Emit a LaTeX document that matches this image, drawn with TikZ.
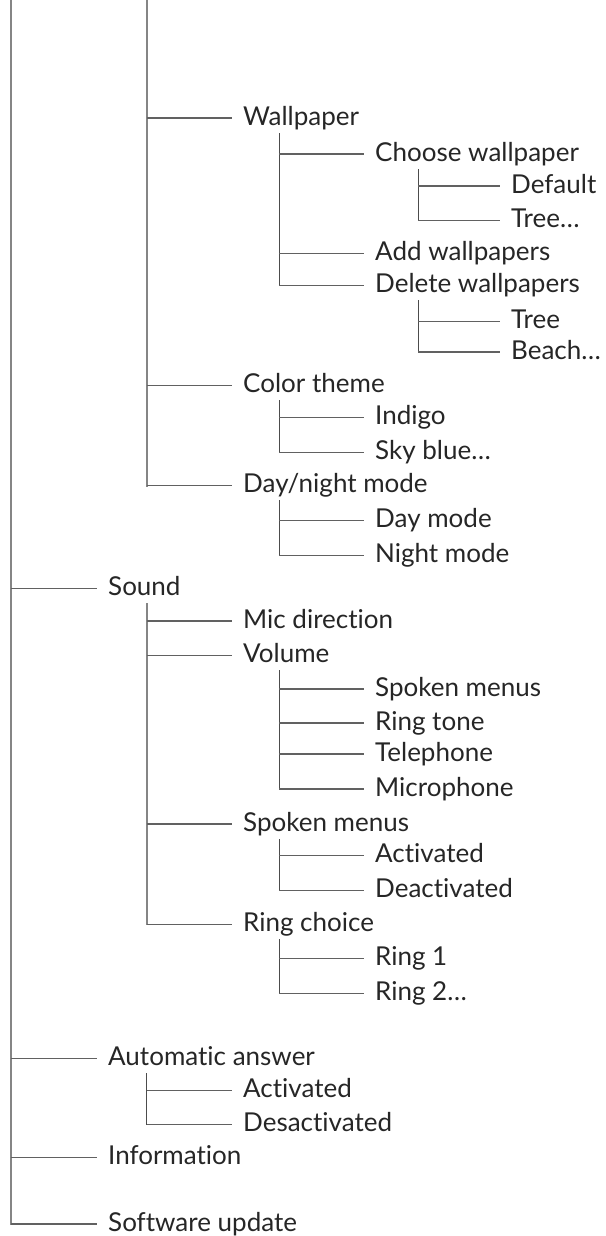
\documentclass[tikz,border=0pt]{standalone}
\usepackage{fontspec}
\setmainfont{Lato}[Ligatures=NoCommon]
\begin{document}
\begin{tikzpicture}[x=1pt,y=-1pt]
\tikzset{
  item/.style={anchor=west,inner xsep=11pt,inner ysep=8pt,text height=14pt,text depth=0pt,
    font=\fontsize{26}{30}\selectfont,text=black!85},
  branch/.style={draw=black!62,line width=1.2pt},
  trunk/.style={draw=black!48,line width=1.7pt,line cap=rect},
  subtrunk/.style={draw=black!70,line width=1.2pt,line cap=rect}
}
\useasboundingbox (0,0) rectangle (605,1236);
% x of the vertical lines
\coordinate (l0) at (11,0);
\coordinate (l1) at (146.7,0);
\coordinate (l2) at (279.3,0);
\coordinate (l3) at (418.3,0);
\def\xa{97}\def\xb{232}\def\xc{364}\def\xd{500}
% first level
\node[item] (sound) at (\xa,588.3) {Sound};
\node[item] (autoans) at (\xa,1058.3) {Automatic answer};
\node[item] (info) at (\xa,1157.3) {Information};
\node[item] (swupd) at (\xa,1224) {Software update};
% second level
\node[item] (wallp) at (\xb,118) {Wallpaper};
\node[item] (colth) at (\xb,385.7) {Color theme};
\node[item] (daynight) at (\xb,485.7) {Day/night mode};
\node[item] (micdir) at (\xb,621) {Mic direction};
\node[item] (volume) at (\xb,655.7) {Volume};
\node[item] (spoken) at (\xb,824) {Spoken menus};
\node[item] (ringch) at (\xb,924.3) {Ring choice};
\node[item] (aaon) at (\xb,1090.7) {Activated};
\node[item] (aaoff) at (\xb,1124.3) {Desactivated};
% third level
\node[item] (choose) at (\xc,154) {Choose wallpaper};
\node[item] (addwp) at (\xc,253.3) {Add wallpapers};
\node[item] (delwp) at (\xc,285.3) {Delete wallpapers};
\node[item] (indigo) at (\xc,417.3) {Indigo};
\node[item] (skyblue) at (\xc,452.3) {Sky blue\dots};
\node[item] (daym) at (\xc,520.7) {Day mode};
\node[item] (nightm) at (\xc,555.7) {Night mode};
\node[item] (vspoken) at (\xc,689) {Spoken menus};
\node[item] (ringtone) at (\xc,723) {Ring tone};
\node[item] (phone) at (\xc,754) {Telephone};
\node[item] (micro) at (\xc,789) {Microphone};
\node[item] (smon) at (\xc,855.7) {Activated};
\node[item] (smoff) at (\xc,890.7) {Deactivated};
\node[item] (ringa) at (\xc,958.3) {Ring 1};
\node[item] (ringb) at (\xc,993.3) {Ring 2\dots};
% fourth level
\node[item] (default) at (\xd,186) {Default};
\node[item] (tree) at (\xd,220.7) {Tree\dots};
\node[item] (deltree) at (\xd,321.7) {Tree};
\node[item] (beach) at (\xd,352) {Beach\dots};
% vertical lines
\draw[trunk] (l0) -- (swupd.west -| l0);
\draw[trunk] (l1) -- (daynight.west -| l1);
\draw[trunk] (sound.south -| l1) -- (ringch.west -| l1);
\draw[subtrunk] (autoans.south -| l1) -- (aaoff.west -| l1);
\draw[subtrunk] (wallp.south -| l2) -- (delwp.west -| l2);
\draw[subtrunk] (colth.south -| l2) -- (skyblue.west -| l2);
\draw[subtrunk] (daynight.south -| l2) -- (nightm.west -| l2);
\draw[subtrunk] (volume.south -| l2) -- (micro.west -| l2);
\draw[subtrunk] (spoken.south -| l2) -- (smoff.west -| l2);
\draw[subtrunk] (ringch.south -| l2) -- (ringb.west -| l2);
\draw[subtrunk] (choose.south -| l3) -- (tree.west -| l3);
\draw[subtrunk] (delwp.south -| l3) -- (beach.west -| l3);
% horizontal lines
\foreach \n in {sound,autoans,info,swupd}
  \draw[branch] (\n.west -| l0) -- (\n.west);
\foreach \n in {wallp,colth,daynight,micdir,volume,spoken,ringch,aaon,aaoff}
  \draw[branch] (\n.west -| l1) -- (\n.west);
\foreach \n in {choose,addwp,delwp,indigo,skyblue,daym,nightm,vspoken,ringtone,phone,micro,smon,smoff,ringa,ringb}
  \draw[branch] (\n.west -| l2) -- (\n.west);
\foreach \n in {default,tree,deltree,beach}
  \draw[branch] (\n.west -| l3) -- (\n.west);
\end{tikzpicture}
\end{document}
